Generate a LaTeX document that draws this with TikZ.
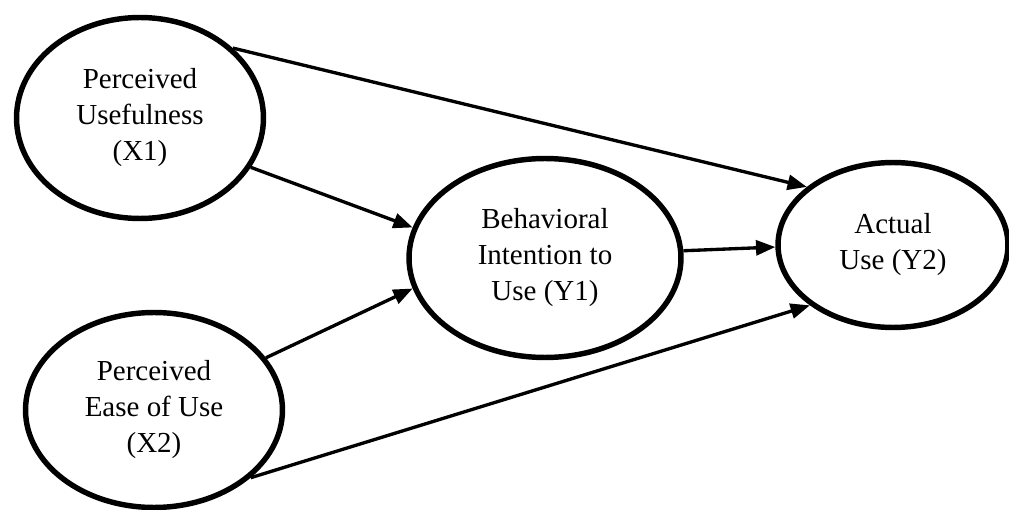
\documentclass[tikz,border=0pt]{standalone}
\usepackage{fontspec}
\setmainfont{Liberation Serif}
\usetikzlibrary{shapes.geometric,arrows.meta}

\begin{document}
\begin{tikzpicture}[x=0.02cm,y=-0.02cm,
        construct/.style={ellipse,draw,line width=3.1pt,inner sep=0pt,align=center,
            font=\fontsize{16.5}{20.5}\selectfont},
        link/.style={line width=1.9pt,-{Triangle[length=11pt,width=8.5pt]}}]
        \useasboundingbox (0,0) rectangle (1009,510);
        \node[construct,minimum width=4.94cm,minimum height=4.02cm] (x1) at (140,118) {Perceived\\Usefulness\\(X1)};
        \node[construct,minimum width=5.14cm,minimum height=3.9cm] (x2) at (154,410) {Perceived\\Ease of Use\\(X2)};
        \node[construct,minimum width=5.44cm,minimum height=3.98cm] (y1) at (545,258) {Behavioral\\Intention to\\Use (Y1)};
        \node[construct,minimum width=4.6cm,minimum height=3.3cm] (y2) at (893,245) {Actual\\Use (Y2)};
        \draw[link] (x1.37) -- (y2.146);
        \draw[link] (x1.336) -- (y1.167);
        \draw[link] (x2.25) -- (y1.193);
        \draw[link] (y1.3) -- (y2.181);
        \draw[link] (x2.325) -- (y2.216);
    \end{tikzpicture}
\end{document}
